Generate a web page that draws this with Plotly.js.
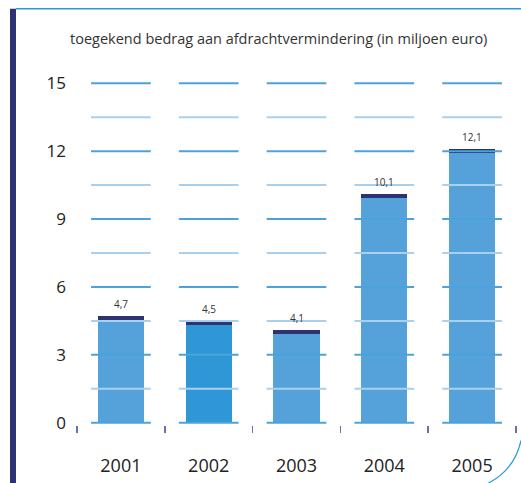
<!DOCTYPE html>
<html>
<head>
<meta charset="utf-8">
<script src="https://cdn.plot.ly/plotly-3.0.1.min.js"></script>
<style>
  body { margin: 0; background: #fff; }
  #plot { width: 521px; height: 483px; }
</style>
</head>
<body>
<div id="plot"></div>
<script>
var years = ['2001', '2002', '2003', '2004', '2005'];
var amounts = [4.7, 4.5, 4.1, 10.1, 12.1];
var barColors = ['#55a1d9', '#2f97d5', '#55a1d9', '#55a1d9', '#55a1d9'];
var yTicks = [0, 3, 6, 9, 12, 15];
var halfTicks = [1.5, 4.5, 7.5, 10.5, 13.5];

var capH = 0.16;
var xs = [];
for (var i = 0; i < years.length; i++) xs.push(i);

var body = {
  x: xs,
  y: amounts.map(function (v) { return v - capH; }),
  type: 'bar',
  width: 0.525,
  marker: { color: barColors },
  hoverinfo: 'skip'
};
var cap = {
  x: xs,
  y: amounts.map(function () { return capH; }),
  type: 'bar',
  width: 0.525,
  marker: { color: '#2e3272' },
  hoverinfo: 'skip'
};

// dashed-looking grid: one short segment per category and level
function segments(levels) {
  var gx = [], gy = [];
  for (var l = 0; l < levels.length; l++) {
    for (var i = 0; i < years.length; i++) {
      gx.push(i - 0.34, i + 0.34, null);
      gy.push(levels[l], levels[l], null);
    }
  }
  return { x: gx, y: gy };
}
var g1 = segments(yTicks);
var g2 = segments(halfTicks);
var gridMajor = {
  x: g1.x, y: g1.y, type: 'scatter', mode: 'lines',
  line: { color: '#4aa3dc', width: 2 }, hoverinfo: 'skip', connectgaps: false
};
var gridMinor = {
  x: g2.x, y: g2.y, type: 'scatter', mode: 'lines',
  line: { color: '#a9d0ee', width: 2 }, hoverinfo: 'skip', connectgaps: false
};

var valueNotes = amounts.map(function (v, i) {
  return {
    x: i, y: v, xref: 'x', yref: 'y',
    text: v.toFixed(1).replace('.', ','),
    showarrow: false, yanchor: 'bottom', yshift: 3,
    font: { family: 'Open Sans', size: 10, color: '#333' }
  };
});

var layout = {
  width: 521,
  height: 483,
  margin: { l: 77, r: 5, t: 81, b: 58 },
  paper_bgcolor: '#fff',
  plot_bgcolor: '#fff',
  barmode: 'stack',
  showlegend: false,
  font: { family: 'Open Sans', color: '#222' },
  title: {
    text: 'toegekend bedrag aan afdrachtvermindering (in miljoen euro)',
    font: { family: 'Open Sans', size: 14.5, color: '#333' },
    x: 0.535, xanchor: 'center', y: 0.92, yanchor: 'middle'
  },
  xaxis: {
    range: [-0.5, 4.5],
    tickvals: xs,
    ticktext: years,
    ticks: '',
    ticklabelstandoff: 28,
    tickfont: { size: 18, color: '#222' },
    showgrid: false,
    zeroline: false,
    showline: false,
    fixedrange: true,
    minor: { tick0: -0.5, dtick: 1, ticks: 'outside', ticklen: 7, tickwidth: 1.5, tickcolor: '#6a70a8' }
  },
  yaxis: {
    range: [-0.1, 15.1],
    tickvals: yTicks,
    ticks: '',
    ticklabelstandoff: 10,
    tickfont: { size: 17, color: '#222' },
    showgrid: false,
    zeroline: false,
    showline: false,
    fixedrange: true
  },
  annotations: valueNotes,
  shapes: [
    { type: 'rect', xref: 'paper', yref: 'paper', x0: -0.1526, x1: -0.139, y0: -0.18, y1: 1.21,
      fillcolor: '#2e3272', line: { width: 0 } },
    { type: 'line', xref: 'paper', yref: 'paper', x0: -0.139, x1: 1.02, y0: 1.21, y1: 1.21,
      line: { color: '#2d9ad8', width: 1.5 } },
    { type: 'path', xref: 'paper', yref: 'paper',
      path: 'M 0.936 -0.17 Q 0.997 -0.13 1.0114 -0.045',
      line: { color: '#2d9ad8', width: 1.2 } }
  ]
};

Plotly.newPlot('plot', [body, cap, gridMinor, gridMajor], layout,
  { displayModeBar: false, staticPlot: true });
</script>
</body>
</html>
